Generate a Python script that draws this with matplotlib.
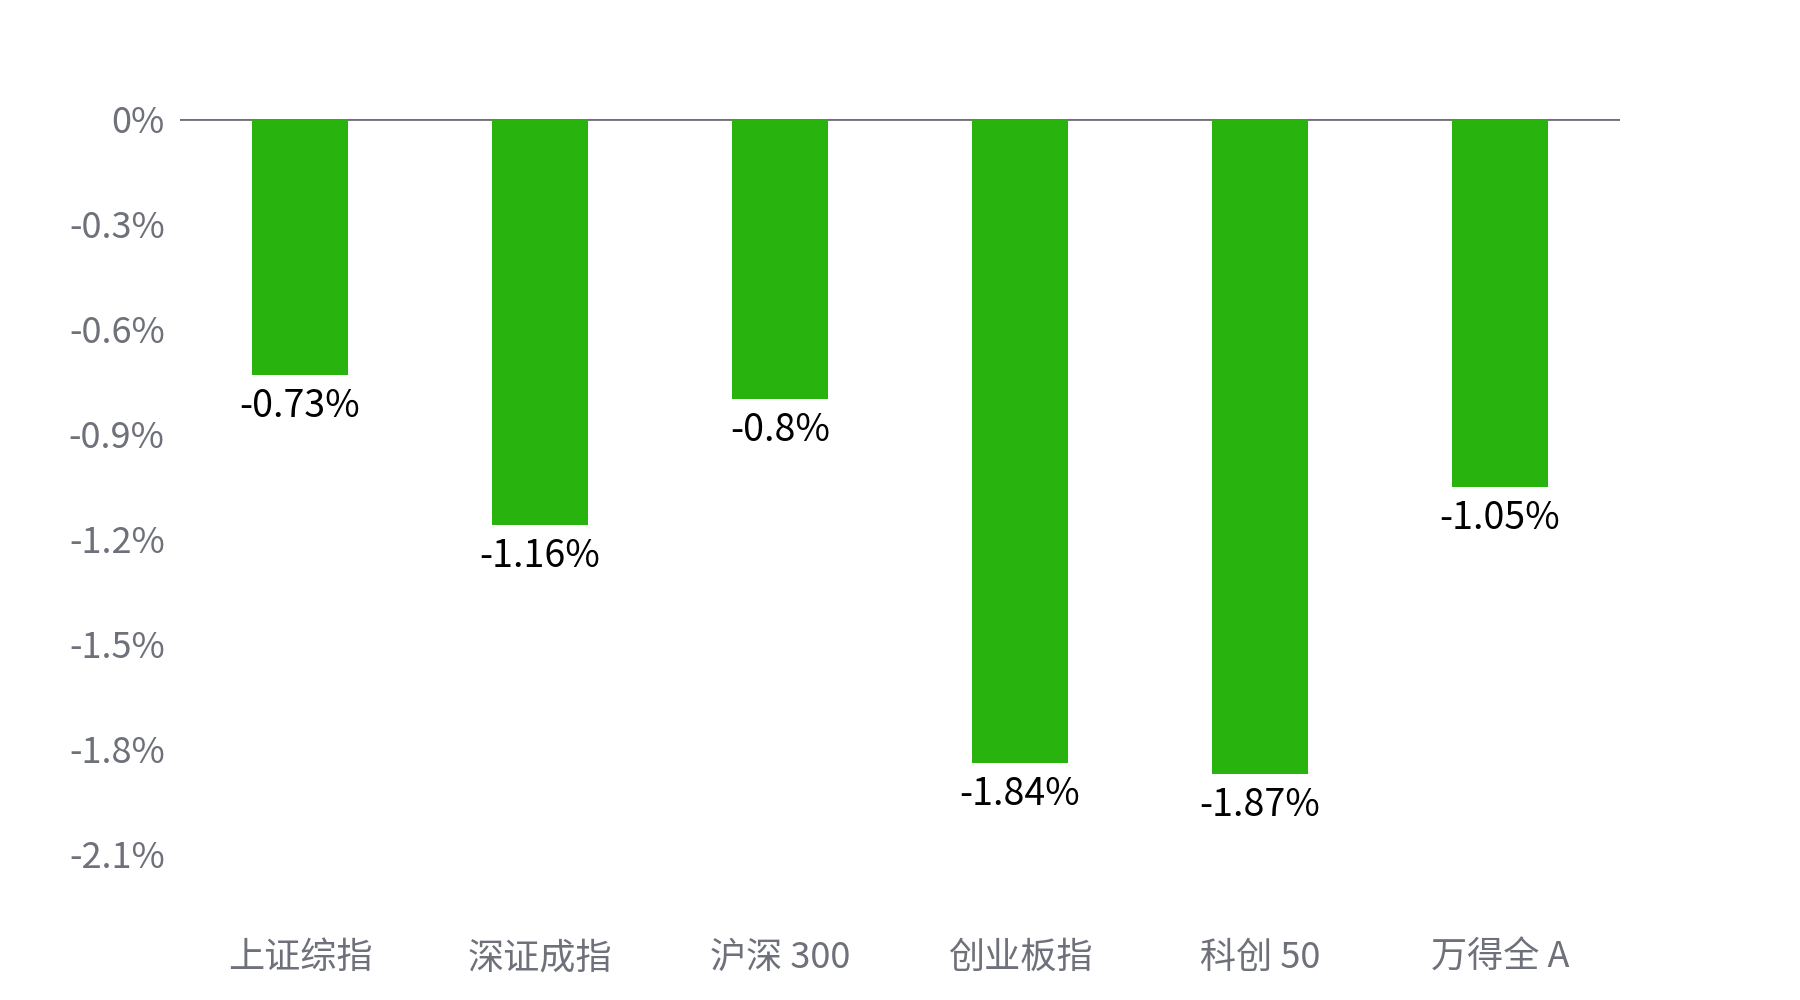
import matplotlib.pyplot as plt

plt.rcParams["font.family"] = ["Noto Sans CJK SC", "DejaVu Sans"]

# Index daily change (%)
categories = ["上证综指", "深证成指", "沪深 300", "创业板指", "科创 50", "万得全 A"]
values = [-0.73, -1.16, -0.8, -1.84, -1.87, -1.05]
labels = ["-0.73%", "-1.16%", "-0.8%", "-1.84%", "-1.87%", "-1.05%"]
yticks = [0, -0.3, -0.6, -0.9, -1.2, -1.5, -1.8, -2.1]
ytick_labels = ["0%", "-0.3%", "-0.6%", "-0.9%", "-1.2%", "-1.5%", "-1.8%", "-2.1%"]

green = "#29B30F"
gray = "#6E707A"

fig = plt.figure(figsize=(18, 10), dpi=100)
ax = fig.add_axes([0.1, 0.146, 0.8, 0.735])

x = range(len(categories))
ax.bar(x, values, width=0.4, color=green, zorder=2)
ax.axhline(0, color=gray, linewidth=2, zorder=1)

for xi, v, lab in zip(x, values, labels):
    ax.text(xi, v - 0.035, lab, ha="center", va="top", fontsize=27, color="black")

ax.set_xlim(-0.5, 5.5)
ax.set_ylim(-2.1, 0)
ax.set_xticks(list(x))
ax.set_xticklabels(categories, fontsize=26, color=gray)
ax.set_yticks(yticks)
ax.set_yticklabels(ytick_labels, fontsize=26, color=gray)
ax.tick_params(axis="both", length=0)
ax.tick_params(axis="y", pad=11)
ax.tick_params(axis="x", pad=62)

for s in ax.spines.values():
    s.set_visible(False)

fig.savefig("out.png", dpi=100)
